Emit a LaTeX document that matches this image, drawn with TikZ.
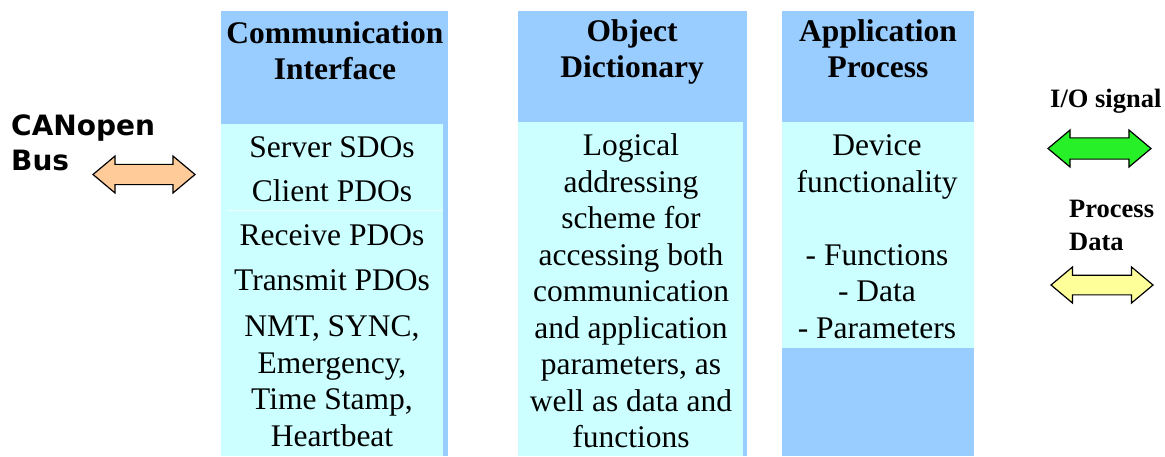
\documentclass[tikz,border=0pt]{standalone}
\usepackage{fontspec}
\setmainfont{Liberation Serif}
\newfontfamily\busfont{DejaVu Sans}
\usetikzlibrary{shapes.arrows}

\definecolor{hdrblue}{HTML}{99CCFF}
\definecolor{bodycyan}{HTML}{CCFFFF}
\definecolor{busorange}{HTML}{FFCC99}
\definecolor{iogreen}{RGB}{40,240,40}
\definecolor{dataYellow}{HTML}{FFFF99}

\tikzset{
  colhead/.style={font=\bfseries\fontsize{31.5}{36}\selectfont, anchor=base, inner sep=0pt},
  coltext/.style={font=\fontsize{31.5}{36}\selectfont, anchor=base, inner sep=0pt},
  sidelabel/.style={font=\bfseries\fontsize{26.5}{28}\selectfont, anchor=base west, inner sep=0pt},
  dblarrow/.style={double arrow, draw=black, line width=1.2pt,
    double arrow head indent=0pt, double arrow tip angle=80,
    inner xsep=0pt, text height=0pt, text depth=0pt}
}

\begin{document}
\begin{tikzpicture}[x=1pt,y=-1pt]
\useasboundingbox (0,0) rectangle (1165,456);

% column backgrounds
\fill[hdrblue] (221,11) rectangle (448,456);
\fill[bodycyan] (221,124) rectangle (443,456);
\draw[white!60!bodycyan, line width=0.6pt] (227,210) -- (443,210);

\fill[hdrblue] (518,11) rectangle (747,456);
\fill[bodycyan] (518,122) rectangle (743,456);

\fill[hdrblue] (782,11) rectangle (974,456);
\fill[bodycyan] (782,122) rectangle (974,348);

% communication interface
\node[colhead] (ci-h1) at (335,43) {Communication};
\node[colhead] (ci-h2) at (335,79) {Interface};
\foreach \yy/\t [count=\i] in {157/Server SDOs, 201/Client PDOs, 245/Receive PDOs,
    290/Transmit PDOs, 336/{NMT, SYNC,}, 373/{Emergency,}, 409/{Time Stamp,}, 446/Heartbeat}
  \node[coltext] (ci-\i) at (332,\yy) {\t};

% object dictionary
\node[colhead] (od-h1) at (632,41) {Object};
\node[colhead] (od-h2) at (632,77) {Dictionary};
\foreach \yy/\t [count=\i] in {155/Logical, 192/addressing, 228/scheme for,
    265/accessing both, 301/communication, 338/and application,
    374/{parameters, as}, 411/well as data and, 447/functions}
  \node[coltext] (od-\i) at (631,\yy) {\t};

% application process
\node[colhead] (ap-h1) at (878,41) {Application};
\node[colhead] (ap-h2) at (878,77) {Process};
\foreach \yy/\t [count=\i] in {155/Device, 192/functionality, 265/- Functions,
    301/- Data, 338/- Parameters}
  \node[coltext] (ap-\i) at (877,\yy) {\t};

% bus side
\node[anchor=base west, inner sep=0pt, font=\busfont\bfseries\fontsize{28}{35}\selectfont]
  (bus1) at (11,135) {CANopen};
\node[anchor=base west, inner sep=0pt, font=\busfont\bfseries\fontsize{28}{35}\selectfont]
  (bus2) at (11,170) {Bus};
\node[dblarrow, fill=busorange, minimum height=102pt, minimum width=37pt, inner ysep=8pt]
  (busarrow) at (144,174.5) {};

% process side
\node[sidelabel] (iolab) at (1050,107) {I/O signal};
\node[dblarrow, fill=iogreen, minimum height=103pt, minimum width=37pt, inner ysep=9pt]
  (ioarrow) at (1099.5,148.5) {};
\node[sidelabel] (pdlab1) at (1069,217) {Process};
\node[sidelabel] (pdlab2) at (1069,250) {Data};
\node[dblarrow, fill=dataYellow, minimum height=102pt, minimum width=36pt, inner ysep=8pt]
  (pdarrow) at (1102,285) {};
\end{tikzpicture}
\end{document}
